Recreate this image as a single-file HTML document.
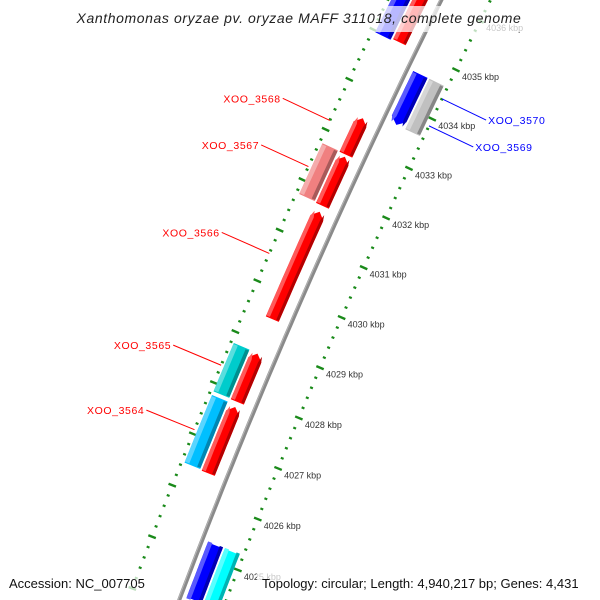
<!DOCTYPE html>
<html><head><meta charset="utf-8">
<style>
html,body{margin:0;padding:0;background:#fff;overflow:hidden;}
svg{display:block;font-family:"Liberation Sans","DejaVu Sans",sans-serif;}
</style></head>
<body>
<svg id="map" width="600" height="600" viewBox="0 0 600 600" xmlns="http://www.w3.org/2000/svg">
<rect width="600" height="600" fill="#fff"/>
<g id="rings"></g>
<g id="backbone"></g>
<g id="features"></g>
<g id="labels"></g>
<g id="ticklabels"></g>
<rect x="70" y="6" width="462" height="26" fill="#fff" opacity="0.72"/>
<text x="299" y="23" text-anchor="middle" font-size="14" font-style="italic" fill="#222" style="letter-spacing:0.6px">Xanthomonas oryzae pv. oryzae MAFF 311018, complete genome</text>
<rect x="4" y="572" width="148" height="24" fill="#fff" opacity="0.72"/>
<rect x="257" y="572" width="340" height="24" fill="#fff" opacity="0.72"/>
<text x="9" y="588" font-size="13" fill="#111">Accession: NC_007705</text>
<text x="262" y="588" font-size="13" fill="#111">Topology: circular; Length: 4,940,217 bp; Genes: 4,431</text>
</svg>
<script>
// ---- data ----
const featStart = [4035.0, 4032.74, 4031.72, 4029.47, 4027.84, 4026.44, 4034.97, 4031.74, 4027.85, 4026.46, 4033.62, 4033.62, 4025.27, 4025.27];
const featEnd   = [4036.9, 4033.47, 4032.70, 4031.60, 4028.79, 4027.74, 4036.9, 4032.75, 4028.80, 4027.78, 4034.64, 4034.64, 4024.2, 4024.2];
const featTrack = [1, 1, 1, 1, 1, 1, 2, 2, 2, 2, -1, -2, -1, -2];
const featColor = ["#ff0000","#ff0000","#ff0000","#ff0000","#ff0000","#ff0000","#0000ff","#f08080","#00cccc","#00bfff","#0000ff","#c0c0c0","#0000ff","#00ffff"];
const featArrow = [0, 1, 1, 1, 1, 1, 0, 0, 0, 0, 1, 0, 0, 0];
const labelNames = ["XOO_3568","XOO_3567","XOO_3566","XOO_3565","XOO_3564","XOO_3570","XOO_3569"];
const labelPos   = [4033.18, 4032.26, 4030.54, 4028.34, 4027.08, 4034.41, 4033.86];
const labelSide  = [1, 1, 1, 1, 1, -1, -1];
const tickKbp = [4024,4025,4026,4027,4028,4029,4030,4031,4032,4033,4034,4035,4036,4037];

// ---- geometry ----
const NS="http://www.w3.org/2000/svg";
const CX=6251, CY=2895, R0=6491;
function ang(k){return (203.08+(k-4029)*0.485)*Math.PI/180;}
function pt(k,r){const a=ang(k);return [CX+r*Math.cos(a),CY+r*Math.sin(a)];}
const trackR={1:[12,26],2:[28,45],"-1":[-22,-6],"-2":[-40,-24]};
function mk(tag,attrs,parent){const e=document.createElementNS(NS,tag);for(const k in attrs)e.setAttribute(k,attrs[k]);parent.appendChild(e);return e;}
function P(a){return a.map(p=>p[0].toFixed(1)+","+p[1].toFixed(1)).join(" ");}

// rings
const rings=document.getElementById('rings');
[R0-44,R0+48].forEach((rr,ri)=>{
  for(let t=4024*5;t<=4037*5;t++){
    const k=t/5, major=(t%5===0);
    const h=major?4:1.5;
    const a=pt(k,rr-h), b=pt(k,rr+h);
    const ln=mk('line',{x1:a[0],y1:a[1],x2:b[0],y2:b[1],stroke:'#1a8a1a','stroke-width':major?2.4:2.2},rings);
    
    
  }
});

// backbone
const bb=document.getElementById('backbone');
const bpts=[];for(let k=4023.5;k<=4038;k+=0.25)bpts.push(pt(k,R0));
const bl=mk('polyline',{points:P(bpts),fill:'none',stroke:'#8a8a8a','stroke-width':4},bb);


const bl2=mk('polyline',{points:P(bpts.map((p,i)=>pt(4023.5+i*0.25,R0+1.2))),fill:'none',stroke:'#b5b5b5','stroke-width':1},bb);



function shade(hex,f){let n=parseInt(hex.slice(1),16);let r=n>>16,g=(n>>8)&255,b=n&255;
  if(f>0){r+= (255-r)*f;g+=(255-g)*f;b+=(255-b)*f;}else{r*=1+f;g*=1+f;b*=1+f;}
  return "rgb("+Math.round(r)+","+Math.round(g)+","+Math.round(b)+")";}

function shape(s,e,o1,o2,arrowDir){
  const r1=R0+o1, r2=R0+o2;
  const tipLen=0.12, rm=(r1+r2)/2;
  let bs=s, be=e;
  if(arrowDir===1) be=e-tipLen;
  if(arrowDir===-1) bs=s+tipLen;
  const out=[],inn=[];
  for(let i=0;i<=8;i++){const k=bs+(be-bs)*i/8;out.push(pt(k,r2));inn.push(pt(k,r1));}
  const pts=[];
  if(arrowDir===-1)pts.push(pt(s,rm));
  pts.push(...inn);
  if(arrowDir===1)pts.push(pt(e,rm));
  pts.push(...out.reverse());
  return pts;
}

const fg=document.getElementById('features');
for(let i=0;i<featStart.length;i++){
  const tr=trackR[featTrack[i]];
  const dir=featArrow[i]?(featTrack[i]>0?1:-1):0;
  const g=mk('g',{},fg);
  
  
  const w=tr[1]-tr[0];
  const main=mk('polygon',{points:P(shape(featStart[i],featEnd[i],tr[0],tr[1],dir)),fill:featColor[i]},g);
  
  
  const lo=mk('polygon',{points:P(shape(featStart[i]+0.02,featEnd[i]-0.02,tr[1]-w*0.28,tr[1],dir)),fill:shade(featColor[i],0.35)},g);
  
  
  const dk=mk('polygon',{points:P(shape(featStart[i]+0.02,featEnd[i]-0.02,tr[0],tr[0]+w*0.22,dir)),fill:shade(featColor[i],-0.3)},g);
  
  
}

// labels
const lg=document.getElementById('labels');
for(let i=0;i<labelNames.length;i++){
  const side=labelSide[i];
  const a=pt(labelPos[i], side>0?R0+48:R0-44);
  const b=pt(labelPos[i], side>0?R0+100:R0-93);
  const col=side>0?'#ff0000':'#0000ff';
  const ln=mk('line',{x1:a[0],y1:a[1],x2:b[0],y2:b[1],stroke:col,'stroke-width':1},lg);
  
  
  const t=mk('text',{x:side>0?b[0]-2:b[0]+2,y:b[1]+4,'font-size':10.5,fill:col,'text-anchor':side>0?'end':'start',style:'letter-spacing:0.6px'},lg);
  t.textContent=labelNames[i];
  
  
}

// tick labels
const tl=document.getElementById('ticklabels');
tickKbp.forEach(k=>{
  const p=pt(k,R0-44);
  if(p[1]<0||p[1]>600)return;
  const t=mk('text',{x:p[0]+6,y:p[1]+10,'font-size':9,fill:'#333'},tl);
  t.textContent=k+" kbp";
  
  
});
</script>
</body></html>
